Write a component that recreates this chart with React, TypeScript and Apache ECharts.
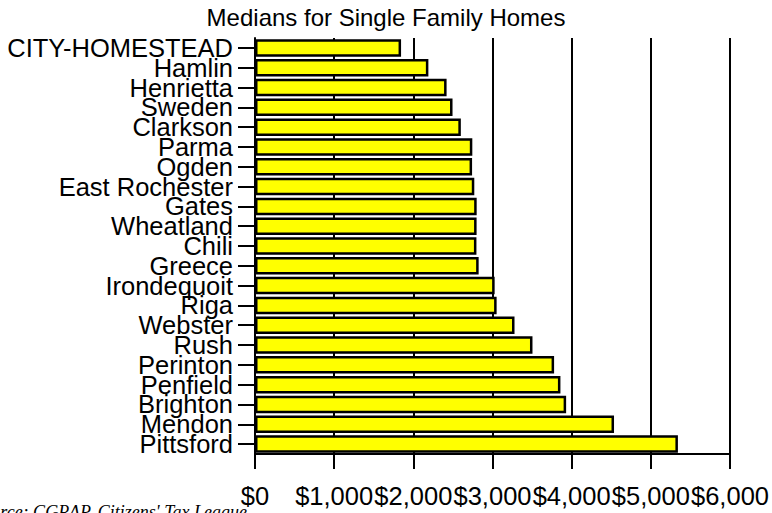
import React, { useEffect, useRef } from "react";
import * as echarts from "echarts";

const categories = [
  "CITY-HOMESTEAD", "Hamlin", "Henrietta", "Sweden", "Clarkson", "Parma", "Ogden",
  "East Rochester", "Gates", "Wheatland", "Chili", "Greece", "Irondequoit", "Riga",
  "Webster", "Rush", "Perinton", "Penfield", "Brighton", "Mendon", "Pittsford",
];
const medians = [
  1845, 2190, 2420, 2495, 2600, 2745, 2742, 2770, 2800, 2799, 2797, 2825, 3027, 3052,
  3278, 3505, 3778, 3858, 3930, 4535, 5342,
];
const xTicks = [0, 1000, 2000, 3000, 4000, 5000, 6000];
const titleText = "Medians for Single Family Homes";
const sourceText = "Source: CGRAP, Citizens' Tax League";

const FONT = "'Liberation Sans', Arial, sans-serif";

export default function App() {
  const ref = useRef<HTMLDivElement>(null);
  useEffect(() => {
    if (!ref.current) return;
    const chart = echarts.init(ref.current, null, { renderer: "svg" });
    const fmt = (v: number) => "$" + v.toLocaleString("en-US");
    chart.setOption({
      animation: false,
      backgroundColor: "#ffffff",
      title: {
        text: titleText,
        left: "center",
        top: 0,
        textStyle: { fontFamily: FONT, fontSize: 24, fontWeight: "normal", color: "#000" },
      },
      grid: { left: 255, right: 39, top: 38, bottom: 59, containLabel: false },
      xAxis: {
        type: "value",
        min: xTicks[0],
        max: xTicks[xTicks.length - 1],
        interval: 1000,
        axisLine: { show: true, lineStyle: { color: "#000", width: 2 } },
        axisTick: { show: true, length: 15, lineStyle: { color: "#000", width: 2 } },
        axisLabel: {
          formatter: fmt,
          margin: 29,
          fontFamily: FONT,
          fontSize: 25.5,
          color: "#000",
          hideOverlap: false,
        },
        splitLine: { show: true, lineStyle: { color: "#000", width: 2 } },
      },
      yAxis: {
        type: "category",
        inverse: true,
        data: categories,
        axisLine: { show: true, lineStyle: { color: "#000", width: 2 } },
        axisTick: { show: true, alignWithLabel: true, length: 17, lineStyle: { color: "#000", width: 2 } },
        axisLabel: {
          margin: 22,
          interval: 0,
          fontFamily: FONT,
          fontSize: 25.5,
          color: "#000",
        },
      },
      series: [
        {
          type: "bar",
          data: medians,
          barWidth: 17.5,
          itemStyle: { color: "#ffff00", borderColor: "#000", borderWidth: 2.5 },
        },
      ],
      graphic: [
        {
          type: "text",
          x: 247,
          y: 512,
          style: {
            text: sourceText,
            align: "right",
            verticalAlign: "middle",
            fontFamily: "'Liberation Serif', 'Times New Roman', serif",
            fontStyle: "italic",
            fontSize: 18,
            fill: "#000",
          },
        },
      ],
    });
    return () => chart.dispose();
  }, []);
  return <div ref={ref} style={{ width: 772, height: 513, position: "absolute", left: 0, top: 0 }} />;
}
